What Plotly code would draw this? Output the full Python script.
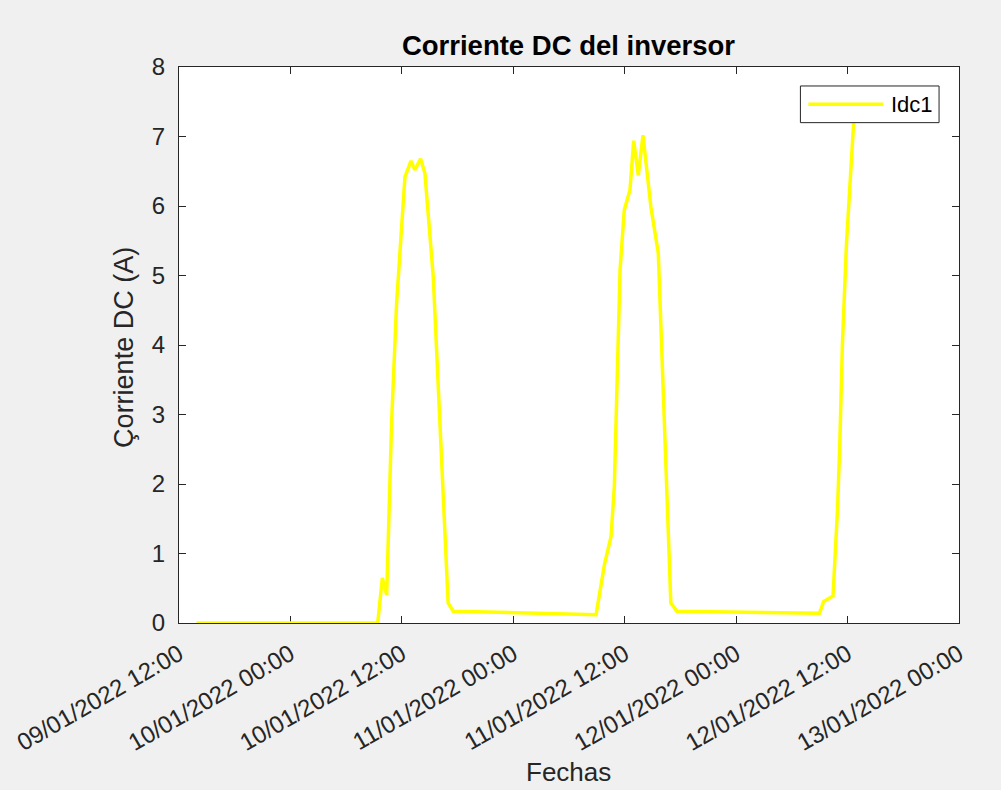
import plotly.graph_objects as go

# ---- data ----
times = [
    "2022-01-09 13:53", "2022-01-10 09:24", "2022-01-10 09:54", "2022-01-10 10:22",
    "2022-01-10 10:54", "2022-01-10 11:26", "2022-01-10 12:20", "2022-01-10 12:59",
    "2022-01-10 13:24", "2022-01-10 14:01", "2022-01-10 14:29", "2022-01-10 15:23",
    "2022-01-10 16:59", "2022-01-10 17:32", "2022-01-11 08:55", "2022-01-11 09:16",
    "2022-01-11 09:49", "2022-01-11 10:32", "2022-01-11 10:53", "2022-01-11 11:30",
    "2022-01-11 11:57", "2022-01-11 12:34", "2022-01-11 12:58", "2022-01-11 13:28",
    "2022-01-11 13:58", "2022-01-11 14:49", "2022-01-11 15:37", "2022-01-11 16:58",
    "2022-01-11 17:37", "2022-01-12 08:58", "2022-01-12 09:26", "2022-01-12 10:26",
    "2022-01-12 10:55", "2022-01-12 11:10", "2022-01-12 11:27", "2022-01-12 11:53",
    "2022-01-12 12:17", "2022-01-12 12:39", "2022-01-12 12:56",
]
idc1 = [
    0.0, 0.0, 0.65, 0.40,
    2.9, 4.6, 6.42, 6.65,
    6.52, 6.68, 6.47, 4.98,
    0.29, 0.17, 0.12, 0.39,
    0.84, 1.25, 1.97, 5.08,
    5.94, 6.23, 6.94, 6.44,
    7.02, 5.99, 5.32, 0.29,
    0.17, 0.14, 0.31, 0.39,
    1.63, 2.59, 4.03, 5.46,
    6.42, 7.19, 7.55,
]
tick_vals = [
    "2022-01-09 12:00", "2022-01-10 00:00", "2022-01-10 12:00", "2022-01-11 00:00",
    "2022-01-11 12:00", "2022-01-12 00:00", "2022-01-12 12:00", "2022-01-13 00:00",
]
tick_text = [
    "09/01/2022 12:00", "10/01/2022 00:00", "10/01/2022 12:00", "11/01/2022 00:00",
    "11/01/2022 12:00", "12/01/2022 00:00", "12/01/2022 12:00", "13/01/2022 00:00",
]
y_ticks = [0, 1, 2, 3, 4, 5, 6, 7, 8]
series_name = "Idc1"

FONT = "Liberation Sans, Arial, Helvetica, sans-serif"
AX = "#262626"

fig = go.Figure()
fig.add_trace(go.Scatter(
    x=times, y=idc1, mode="lines", name=series_name,
    line=dict(color="#ffff00", width=3.5), showlegend=False,
))

W, H = 1001, 790
L, R, T, B = 177, 42, 67, 166.5
pw = W - L - R
ph = H - T - B

def px(xp):
    return (xp - L) / pw

def py(yp):
    return (H - B - yp) / ph

# manual MATLAB-style legend (box, sample line, label)
shapes = [
    dict(type="rect", xref="paper", yref="paper", x0=px(800), x1=px(939),
         y0=py(122.7), y1=py(86), fillcolor="white",
         line=dict(color=AX, width=1), layer="above"),
    dict(type="line", xref="paper", yref="paper", x0=px(808), x1=px(883),
         y0=py(104.3), y1=py(104.3), line=dict(color="#ffff00", width=3.5),
         layer="above"),
]
annotations = [
    dict(text=series_name, xref="paper", yref="paper", x=px(889), y=py(104.3),
         xanchor="left", yanchor="middle", showarrow=False,
         font=dict(family=FONT, size=22, color="#000000")),
    dict(text="Çorriente DC (A)", xref="paper", yref="paper", x=px(122),
         y=py(348), xanchor="center", yanchor="middle", textangle=-90,
         showarrow=False, font=dict(family=FONT, size=27, color=AX)),
    dict(text="Fechas", xref="paper", yref="paper", x=px(567.5), y=py(773),
         xanchor="center", yanchor="middle", showarrow=False,
         font=dict(family=FONT, size=26, color=AX)),
]

fig.update_layout(
    width=W, height=H,
    margin=dict(l=L, r=R, t=T, b=B, pad=0),
    paper_bgcolor="#f0f0f0", plot_bgcolor="#ffffff",
    font=dict(family=FONT, size=24, color=AX),
    title=dict(text="<b>Corriente DC del inversor</b>", x=px(567.5), xref="paper",
               y=1 - 45 / H, yref="container", xanchor="center", yanchor="middle",
               font=dict(family=FONT, size=27.5, color="#000000")),
    shapes=shapes, annotations=annotations, showlegend=False,
)
fig.update_xaxes(
    type="date", range=[tick_vals[0], tick_vals[-1]],
    tickvals=tick_vals, ticktext=tick_text, tickangle=-30,
    ticks="inside", ticklen=7, tickcolor=AX, tickwidth=1,
    showline=True, linecolor=AX, linewidth=1, mirror="allticks",
    showgrid=False, zeroline=False, layer="below traces",
    tickfont=dict(family=FONT, size=24, color=AX), ticklabelstandoff=7,
)
fig.update_yaxes(
    range=[0, 8], tickvals=y_ticks,
    ticks="inside", ticklen=7, tickcolor=AX, tickwidth=1,
    showline=True, linecolor=AX, linewidth=1, mirror="allticks",
    showgrid=False, zeroline=False,
    tickfont=dict(family=FONT, size=24, color=AX), ticklabelstandoff=8,
)

fig.write_html(
    "out.html",
    config={"displayModeBar": False},
    post_script=(
        "document.documentElement.style.margin='0';"
        "document.body.style.margin='0';"
        "document.body.style.overflow='hidden';"
        "document.body.style.background='#f0f0f0';"
    ),
)
